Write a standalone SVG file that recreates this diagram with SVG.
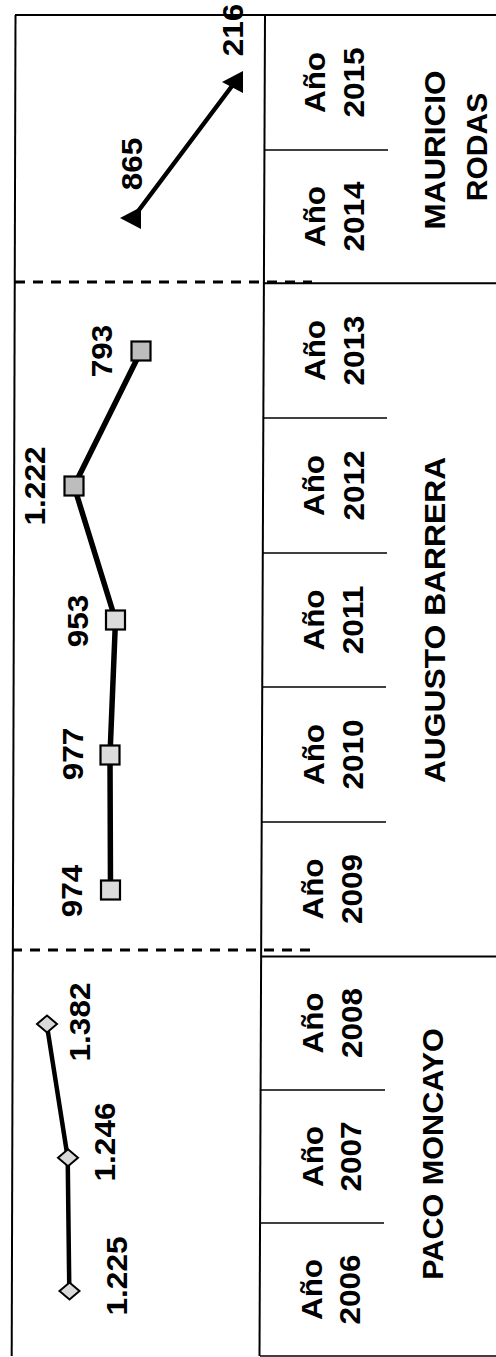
<svg xmlns="http://www.w3.org/2000/svg" width="496" height="1357" viewBox="0 0 496 1357">
<style>
  .frame{stroke:#000;stroke-width:2;fill:none}
  .thin{stroke:#000;stroke-width:1.6;fill:none}
  .dash{stroke:#000;stroke-width:3;stroke-dasharray:10 8;fill:none}
  .series{stroke:#000;fill:none;stroke-linejoin:round;stroke-linecap:round}
  .t{font-family:"Liberation Sans",Arial,sans-serif;font-weight:bold;font-size:30px;fill:#000;text-anchor:middle}
  .sq{stroke:#000;stroke-width:2.2}
  .dm{fill:#d9d9d9;stroke:#000;stroke-width:2}
  .tri{fill:#000}
</style>
<rect width="496" height="1357" fill="#fff"/>
<g id="frame">
  <line class="frame" x1="15" y1="15" x2="496" y2="15"/>
  <line class="frame" x1="15.5" y1="15" x2="11.7" y2="1356"/>
  <line class="frame" x1="265" y1="15" x2="259.5" y2="1356"/>
  <line class="thin" x1="260" y1="1356" x2="496" y2="1356"/>
  <line class="frame" x1="264" y1="283.3" x2="496" y2="283.3"/>
  <line class="frame" x1="262" y1="956.5" x2="496" y2="956.5"/>
  <line class="dash" x1="15" y1="282" x2="312" y2="282"/>
  <line class="dash" x1="12" y1="950" x2="312" y2="950"/>
  <line class="thin" x1="265" y1="150" x2="388" y2="150"/>
  <line class="thin" x1="263.5" y1="418" x2="387" y2="418"/>
  <line class="thin" x1="263" y1="553" x2="387" y2="553"/>
  <line class="thin" x1="262.5" y1="687" x2="386" y2="687"/>
  <line class="thin" x1="262" y1="822" x2="386" y2="822"/>
  <line class="thin" x1="261" y1="1090" x2="385" y2="1090"/>
  <line class="thin" x1="260.5" y1="1223" x2="384" y2="1223"/>
</g>
<g id="connectors">
  <polyline class="series" stroke-width="4.5" points="133,218 235,82"/>
  <polyline class="series" stroke-width="5.5" points="110.5,890 110,755 115.5,620 74,486 141,351"/>
  <polyline class="series" stroke-width="4.5" points="69.3,1291 67.7,1157.7 46.7,1024"/>
</g>
<g id="markers">
  <polygon class="tri" points="120,218 141,207 141,229"/>
  <polygon class="tri" points="222,82 243,71 243,93"/>
  <rect class="sq" fill="#dcdcdc" x="101" y="880.5" width="19" height="19"/>
  <rect class="sq" fill="#dcdcdc" x="100.5" y="745.5" width="19" height="19"/>
  <rect class="sq" fill="#dcdcdc" x="106" y="610.5" width="19" height="19"/>
  <rect class="sq" fill="#bdbdbd" x="64.5" y="476.5" width="19" height="19"/>
  <rect class="sq" fill="#bdbdbd" x="131.5" y="341.5" width="19" height="19"/>
  <polygon class="dm" points="37,1024 47,1015.5 57,1024 47,1032.5"/>
  <polygon class="dm" points="58,1157.7 68,1149.2 78,1157.7 68,1166.2"/>
  <polygon class="dm" points="59.5,1291 69.5,1282.5 79.5,1291 69.5,1299.5"/>
</g>
<g id="value-labels">
  <text class="t" transform="translate(142,164) rotate(-90) scale(1.05,1)">865</text>
  <text class="t" transform="translate(243,30) rotate(-90) scale(1.05,1)">216</text>
  <text class="t" transform="translate(112,351) rotate(-90) scale(1.05,1)">793</text>
  <text class="t" transform="translate(45,486) rotate(-90) scale(1.05,1)">1.222</text>
  <text class="t" transform="translate(88,621) rotate(-90) scale(1.05,1)">953</text>
  <text class="t" transform="translate(83,754) rotate(-90) scale(1.05,1)">977</text>
  <text class="t" transform="translate(82,891) rotate(-90) scale(1.05,1)">974</text>
  <text class="t" transform="translate(90,1022) rotate(-90) scale(1.05,1)">1.382</text>
  <text class="t" transform="translate(115,1142) rotate(-90) scale(1.05,1)">1.246</text>
  <text class="t" transform="translate(127,1276) rotate(-90) scale(1.05,1)">1.225</text>
</g>
<g id="year-2015"><text class="t" transform="translate(325,82.5) rotate(-90) scale(1.05,1)">Año</text><text class="t" transform="translate(364,82.5) rotate(-90) scale(1.05,1)">2015</text></g>
<g id="year-2014"><text class="t" transform="translate(325,216.5) rotate(-90) scale(1.05,1)">Año</text><text class="t" transform="translate(364,216.5) rotate(-90) scale(1.05,1)">2014</text></g>
<g id="year-2013"><text class="t" transform="translate(324.5,350.5) rotate(-90) scale(1.05,1)">Año</text><text class="t" transform="translate(364,350.5) rotate(-90) scale(1.05,1)">2013</text></g>
<g id="year-2012"><text class="t" transform="translate(324,485.5) rotate(-90) scale(1.05,1)">Año</text><text class="t" transform="translate(363.5,485.5) rotate(-90) scale(1.05,1)">2012</text></g>
<g id="year-2011"><text class="t" transform="translate(324,620) rotate(-90) scale(1.05,1)">Año</text><text class="t" transform="translate(363,620) rotate(-90) scale(1.05,1)">2011</text></g>
<g id="year-2010"><text class="t" transform="translate(323.5,754.5) rotate(-90) scale(1.05,1)">Año</text><text class="t" transform="translate(362.5,754.5) rotate(-90) scale(1.05,1)">2010</text></g>
<g id="year-2009"><text class="t" transform="translate(323,889) rotate(-90) scale(1.05,1)">Año</text><text class="t" transform="translate(362,889) rotate(-90) scale(1.05,1)">2009</text></g>
<g id="year-2008"><text class="t" transform="translate(323,1023) rotate(-90) scale(1.05,1)">Año</text><text class="t" transform="translate(361.5,1023) rotate(-90) scale(1.05,1)">2008</text></g>
<g id="year-2007"><text class="t" transform="translate(322.5,1156.5) rotate(-90) scale(1.05,1)">Año</text><text class="t" transform="translate(361,1156.5) rotate(-90) scale(1.05,1)">2007</text></g>
<g id="year-2006"><text class="t" transform="translate(322,1289.5) rotate(-90) scale(1.05,1)">Año</text><text class="t" transform="translate(360,1289.5) rotate(-90) scale(1.05,1)">2006</text></g>
<g id="mauricio-rodas"><text class="t" transform="translate(445,150) rotate(-90) scale(1.05,1)">MAURICIO</text><text class="t" transform="translate(487,147) rotate(-90) scale(1.0,1)">RODAS</text></g>
<g id="augusto-barrera"><text class="t" transform="translate(445,620) rotate(-90) scale(1.06,1)">AUGUSTO BARRERA</text></g>
<g id="paco-moncayo"><text class="t" transform="translate(443,1154) rotate(-90) scale(1.02,1)">PACO MONCAYO</text></g>
</svg>
